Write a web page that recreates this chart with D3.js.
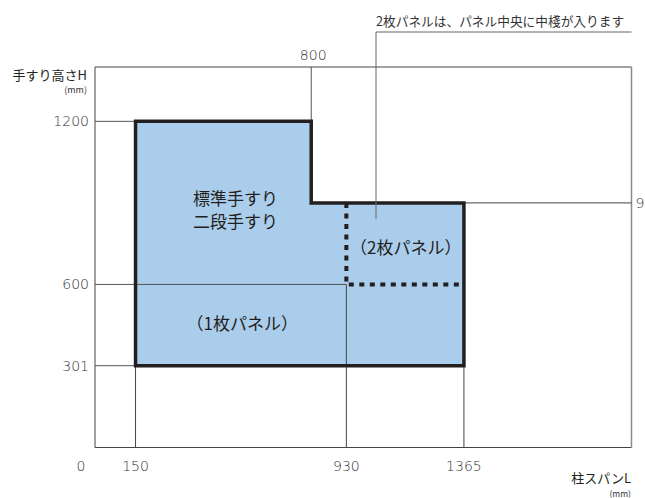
<!DOCTYPE html>
<html>
<head>
<meta charset="utf-8">
<script src="https://cdn.jsdelivr.net/npm/d3@7"></script>
<style>
  html, body { margin: 0; padding: 0; background: #fff; }
  svg { display: block; }
  text { font-family: "Noto Sans CJK JP", "Noto Sans", sans-serif; }
  text.num { font-family: "DejaVu Sans", sans-serif; font-weight: 200; }
</style>
</head>
<body>
<div id="chart"></div>
<script>
// axis ranges (mm)
const xMax = 1985;
const yMax = 1400;

// tick values
const xTicks = [150, 930, 1365];
const yTicks = [301, 600, 1200];
const topTick = 800;
const rightTick = 900;

// outline of the handrail area [L, H]
const outline = [[150, 301], [150, 1200], [800, 1200], [800, 900], [1365, 900], [1365, 301]];
// centre post line of the 2-panel area
const splitLine = [[930, 900], [930, 600], [1365, 600]];

// labels inside the area
const areaLabels = [
  { text: "標準手すり", L: 520, H: 915 },
  { text: "二段手すり", L: 520, H: 830 },
  { text: "（1枚パネル）", L: 545, H: 455 },
  { text: "（2枚パネル）", L: 1150, H: 735 }
];
const note = "2枚パネルは、パネル中央に中棧が入ります";

const width = 645, height = 498;

const x = d3.scaleLinear().domain([0, xMax]).range([95, 631.5]);
const y = d3.scaleLinear().domain([0, yMax]).range([447.5, 67]);

const svg = d3.select("#chart").append("svg")
  .attr("width", width)
  .attr("height", height);

const lineCol = "#444";
const textCol = "#333";

// frame
svg.append("line")
  .attr("x1", x(0)).attr("x2", x(0)).attr("y1", y(0)).attr("y2", y(yMax))
  .attr("stroke", lineCol).attr("stroke-width", 1);
svg.append("line")
  .attr("x1", x(0)).attr("x2", x(xMax)).attr("y1", y(yMax)).attr("y2", y(yMax))
  .attr("stroke", lineCol).attr("stroke-width", 1);
svg.append("line")
  .attr("x1", x(0)).attr("x2", x(xMax)).attr("y1", y(0)).attr("y2", y(0))
  .attr("stroke", lineCol).attr("stroke-width", 1);
svg.append("line")
  .attr("x1", x(xMax)).attr("x2", x(xMax)).attr("y1", y(0)).attr("y2", y(yMax))
  .attr("stroke", "#8a8a8a").attr("stroke-width", 1.5);

// filled area
const line = d3.line().x(d => x(d[0])).y(d => y(d[1]));
svg.append("path")
  .attr("d", line(outline) + "Z")
  .attr("fill", "#abcdec");

// guide lines: horizontal from y axis to the area
const hGuides = [
  { v: 1200, L: 150 },
  { v: 600, L: 930 },
  { v: 301, L: 150 }
];
svg.selectAll(".hguide").data(hGuides).enter().append("line")
  .attr("class", "hguide")
  .attr("x1", x(0)).attr("x2", d => x(d.L))
  .attr("y1", d => y(d.v)).attr("y2", d => y(d.v))
  .attr("stroke", "#555").attr("stroke-width", 1);

// vertical guides down to the x axis
const vGuides = [
  { v: 150, H: 301 },
  { v: 930, H: 600 },
  { v: 1365, H: 301 }
];
svg.selectAll(".vguide").data(vGuides).enter().append("line")
  .attr("class", "vguide")
  .attr("x1", d => x(d.v)).attr("x2", d => x(d.v))
  .attr("y1", d => y(d.H)).attr("y2", y(0))
  .attr("stroke", "#444").attr("stroke-width", 1);

// 800 from top, 900 to the right
svg.append("line")
  .attr("x1", x(topTick)).attr("x2", x(topTick))
  .attr("y1", y(yMax)).attr("y2", y(1200))
  .attr("stroke", "#555").attr("stroke-width", 1);
svg.append("line")
  .attr("x1", x(1365)).attr("x2", x(xMax))
  .attr("y1", y(rightTick)).attr("y2", y(rightTick))
  .attr("stroke", "#444").attr("stroke-width", 1);

// dotted split line
svg.append("path")
  .attr("d", line(splitLine))
  .attr("fill", "none")
  .attr("stroke", "#231f20")
  .attr("stroke-width", 4)
  .attr("stroke-dasharray", "5,5.5");

// thick outline
svg.append("path")
  .attr("d", line(outline) + "Z")
  .attr("fill", "none")
  .attr("stroke", "#231f20")
  .attr("stroke-width", 3.5)
  .attr("stroke-linejoin", "miter");

// note with leader line
svg.append("polyline")
  .attr("points", [[x(xMax), 32], [376, 32], [376, 219]].map(p => p.join(",")).join(" "))
  .attr("fill", "none")
  .attr("stroke", "#666").attr("stroke-width", 1);
svg.append("text")
  .attr("x", 376).attr("y", 26)
  .attr("font-size", 12.7)
  .attr("fill", textCol)
  .text(note);

// tick labels
svg.selectAll(".ytick").data(yTicks).enter().append("text")
  .attr("class", "ytick num")
  .attr("x", 89).attr("y", d => y(d))
  .attr("dy", "0.36em")
  .attr("text-anchor", "end")
  .attr("font-size", 14)
  .attr("fill", textCol)
  .text(d => d);

svg.selectAll(".xtick").data(xTicks).enter().append("text")
  .attr("class", "xtick num")
  .attr("x", d => x(d)).attr("y", 471)
  .attr("text-anchor", "middle")
  .attr("font-size", 14)
  .attr("fill", textCol)
  .text(d => d);

svg.append("text")
  .attr("class", "num")
  .attr("x", x(0) - 14).attr("y", 471)
  .attr("text-anchor", "middle")
  .attr("font-size", 14)
  .attr("fill", textCol)
  .text(0);

svg.append("text")
  .attr("class", "num")
  .attr("x", x(topTick) + 2).attr("y", 60)
  .attr("text-anchor", "middle")
  .attr("font-size", 14)
  .attr("fill", textCol)
  .text(topTick);

svg.append("text")
  .attr("class", "num")
  .attr("x", x(xMax) + 4).attr("y", y(rightTick))
  .attr("dy", "0.36em")
  .attr("font-size", 14)
  .attr("fill", textCol)
  .text(rightTick);

// axis titles
svg.append("text")
  .attr("x", 87).attr("y", 80)
  .attr("text-anchor", "end")
  .attr("font-size", 13)
  .attr("fill", "#231f20")
  .text("手すり高さH");
svg.append("text")
  .attr("x", 87).attr("y", 93)
  .attr("text-anchor", "end")
  .attr("font-size", 9)
  .attr("fill", textCol)
  .text("(mm)");

svg.append("text")
  .attr("x", 631).attr("y", 483)
  .attr("text-anchor", "end")
  .attr("font-size", 13)
  .attr("fill", "#231f20")
  .text("柱スパンL");
svg.append("text")
  .attr("x", 631).attr("y", 497)
  .attr("text-anchor", "end")
  .attr("font-size", 8.5)
  .attr("fill", textCol)
  .text("(mm)");

// area labels
svg.selectAll(".alabel").data(areaLabels).enter().append("text")
  .attr("class", "alabel")
  .attr("x", d => x(d.L)).attr("y", d => y(d.H))
  .attr("dy", "0.36em")
  .attr("text-anchor", "middle")
  .attr("font-size", 17)
  .attr("fill", "#231f20")
  .text(d => d.text);
</script>
</body>
</html>
